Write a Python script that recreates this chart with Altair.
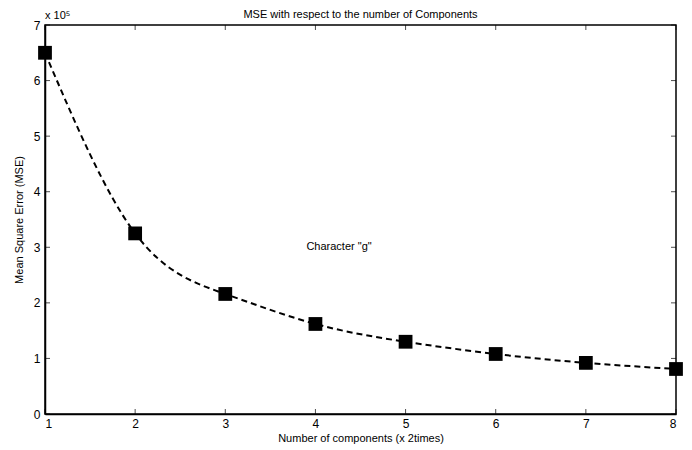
import altair as alt
import pandas as pd

components = [1, 2, 3, 4, 5, 6, 7, 8]
mse = [650000, 325000, 216000, 162000, 130000, 108000, 92000, 81000]
x_ticks = [1, 2, 3, 4, 5, 6, 7, 8]
y_ticks = [0, 100000, 200000, 300000, 400000, 500000, 600000, 700000]

note_text = ['Character "g"']
note_x = [3.9]
note_y = [300000]

W, H = 631, 389
FONT = "Liberation Sans"

df = pd.DataFrame({"c": components, "mse": mse})
note = pd.DataFrame({"c": note_x, "mse": note_y, "t": note_text})
exp_df = pd.DataFrame({"c": [1], "mse": [700000], "t": ["x 10\u2075"]})
xt = pd.DataFrame({"c": x_ticks})
yt = pd.DataFrame({"mse": y_ticks})

xs = alt.Scale(domain=[1, 8], nice=False, zero=False)
ys = alt.Scale(domain=[0, 700000], nice=False, zero=False)

xaxis = alt.Axis(
    values=x_ticks, orient="bottom", title="Number of components (x 2times)",
    tickSize=0, labelPadding=4, domainColor="black", domainWidth=1.5,
    labelFont=FONT, labelFontSize=12, labelColor="black", grid=False,
    titleFont=FONT, titleFontSize=11, titleFontWeight="normal", titleColor="black",
    titlePadding=3)
yaxis = alt.Axis(
    values=y_ticks, orient="left", title="Mean Square Error (MSE)",
    labelExpr="datum.value / 100000", tickSize=0, labelPadding=5,
    domainColor="black", domainWidth=1.5, grid=False,
    labelFont=FONT, labelFontSize=12, labelColor="black",
    titleFont=FONT, titleFontSize=11, titleFontWeight="normal", titleColor="black",
    titlePadding=9)


def X(f="c:Q"):
    return alt.X(f, scale=xs, axis=xaxis)


def Y(f="mse:Q"):
    return alt.Y(f, scale=ys, axis=yaxis)


line = alt.Chart(df).mark_line(
    color="black", strokeWidth=2, strokeDash=[6, 4], interpolate="natural"
).encode(x=X(), y=Y())

points = alt.Chart(df).mark_point(
    shape="square", filled=True, color="black", size=190, opacity=1
).encode(x=X(), y=Y())

text = alt.Chart(note).mark_text(
    align="left", baseline="middle", font=FONT, fontSize=11, color="black"
).encode(x=X(), y=Y(), text="t:N")

exp_text = alt.Chart(exp_df).mark_text(
    align="left", baseline="bottom", font=FONT, fontSize=11, color="black", dy=-4
).encode(x=X(), y=Y(), text="t:N")

tick_bottom = alt.Chart(xt).mark_tick(
    orient="vertical", size=5, thickness=1, color="black", yOffset=-2.5
).encode(x=X(), y=alt.datum(0, scale=ys, axis=yaxis))
tick_top = alt.Chart(xt).mark_tick(
    orient="vertical", size=5, thickness=1, color="black", yOffset=2.5
).encode(x=X(), y=alt.datum(700000, scale=ys, axis=yaxis))
tick_left = alt.Chart(yt).mark_tick(
    orient="horizontal", size=5, thickness=1, color="black", xOffset=2.5
).encode(y=Y(), x=alt.datum(1, scale=xs, axis=xaxis))
tick_right = alt.Chart(yt).mark_tick(
    orient="horizontal", size=5, thickness=1, color="black", xOffset=-2.5
).encode(y=Y(), x=alt.datum(8, scale=xs, axis=xaxis))

chart = alt.layer(
    line, points, text, exp_text, tick_bottom, tick_top, tick_left, tick_right
).properties(
    width=W, height=H, background="white",
    title=alt.Title("MSE with respect to the number of Components",
                    font=FONT, fontSize=11, fontWeight="normal", color="black",
                    anchor="middle", offset=-10, frame="group"),
    autosize=alt.AutoSizeParams(type="none"),
    padding={"left": 37, "top": 17, "right": 8, "bottom": 30},
).configure_view(stroke="black", strokeWidth=1.5)

chart.save("out.html", embed_options={"renderer": "svg", "actions": False})
